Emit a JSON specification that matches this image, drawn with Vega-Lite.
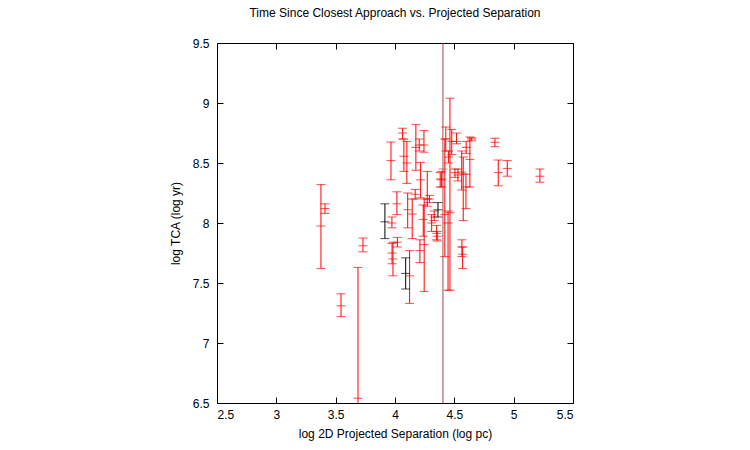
{
  "$schema": "https://vega.github.io/schema/vega-lite/v6.json",
  "autosize": {"type": "none"},
  "width": 356,
  "height": 360,
  "padding": {"left": 217, "top": 43, "right": 177, "bottom": 47},
  "background": "white",
  "config": {
    "view": {"stroke": null},
    "font": "Liberation Sans",
    "axis": {"grid": false, "domain": true, "domainColor": "black", "domainWidth": 1, "tickColor": "black", "labelColor": "black", "titleColor": "black", "labelFont": "Liberation Sans", "titleFont": "Liberation Sans", "labelFontSize": 12, "titleFontSize": 12, "titleFontWeight": "normal"}
  },
  "title": {"text": "Time Since Closest Approach vs. Projected Separation", "font": "Liberation Sans", "fontSize": 12, "fontWeight": "normal", "color": "black", "offset": 17, "anchor": "middle"},
  "data": {"values": [
    {"x": 3.376, "y": 7.975, "lo": 7.62, "hi": 8.32, "s": "a"},
    {"x": 3.41, "y": 8.12, "lo": 8.08, "hi": 8.16, "s": "a"},
    {"x": 3.545, "y": 7.31, "lo": 7.22, "hi": 7.41, "s": "a"},
    {"x": 3.688, "y": 6.54, "lo": 6.4, "hi": 7.63, "s": "a"},
    {"x": 3.73, "y": 7.81, "lo": 7.76, "hi": 7.875, "s": "a"},
    {"x": 3.915, "y": 8.01, "lo": 7.87, "hi": 8.16, "s": "b"},
    {"x": 3.974, "y": 8.0, "lo": 7.96, "hi": 8.05, "s": "a"},
    {"x": 3.983, "y": 7.7, "lo": 7.56, "hi": 7.84, "s": "a"},
    {"x": 3.966, "y": 8.52, "lo": 8.36, "hi": 8.675, "s": "a"},
    {"x": 4.016, "y": 8.16, "lo": 8.07, "hi": 8.26, "s": "a"},
    {"x": 3.975, "y": 7.75, "lo": 7.66, "hi": 7.83, "s": "a"},
    {"x": 4.02, "y": 7.84, "lo": 7.8, "hi": 7.88, "s": "a"},
    {"x": 4.064, "y": 8.75, "lo": 8.7, "hi": 8.79, "s": "a"},
    {"x": 4.075, "y": 8.556, "lo": 8.43, "hi": 8.7, "s": "a"},
    {"x": 4.1, "y": 8.5, "lo": 8.33, "hi": 8.68, "s": "a"},
    {"x": 4.09, "y": 7.58, "lo": 7.45, "hi": 7.71, "s": "b"},
    {"x": 4.123, "y": 7.56, "lo": 7.33, "hi": 7.77, "s": "a"},
    {"x": 4.107, "y": 8.11, "lo": 7.96, "hi": 8.25, "s": "a"},
    {"x": 4.145, "y": 8.075, "lo": 7.87, "hi": 8.2, "s": "a"},
    {"x": 4.17, "y": 8.24, "lo": 8.2, "hi": 8.28, "s": "a"},
    {"x": 4.176, "y": 8.63, "lo": 8.44, "hi": 8.82, "s": "a"},
    {"x": 4.204, "y": 8.65, "lo": 8.6, "hi": 8.7, "s": "a"},
    {"x": 4.216, "y": 8.36, "lo": 8.21, "hi": 8.505, "s": "a"},
    {"x": 4.244, "y": 8.65, "lo": 8.59, "hi": 8.77, "s": "a"},
    {"x": 4.272, "y": 8.2, "lo": 8.14, "hi": 8.43, "s": "a"},
    {"x": 4.29, "y": 8.2, "lo": 8.17, "hi": 8.23, "s": "a"},
    {"x": 4.21, "y": 7.77, "lo": 7.67, "hi": 7.86, "s": "a"},
    {"x": 4.246, "y": 7.82, "lo": 7.43, "hi": 8.2, "s": "a"},
    {"x": 4.238, "y": 8.03, "lo": 7.89, "hi": 8.15, "s": "a"},
    {"x": 4.309, "y": 8.0, "lo": 7.93, "hi": 8.07, "s": "a"},
    {"x": 4.33, "y": 8.05, "lo": 8.02, "hi": 8.1, "s": "a"},
    {"x": 4.351, "y": 7.914, "lo": 7.86, "hi": 7.98, "s": "a"},
    {"x": 4.356, "y": 7.89, "lo": 7.85, "hi": 7.93, "s": "a"},
    {"x": 4.362, "y": 8.11, "lo": 8.05, "hi": 8.17, "s": "b"},
    {"x": 4.381, "y": 8.367, "lo": 8.3, "hi": 8.42, "s": "a"},
    {"x": 4.393, "y": 8.36, "lo": 8.3, "hi": 8.43, "s": "a"},
    {"x": 4.404, "y": 8.45, "lo": 6.0, "hi": 10.0, "s": "c"},
    {"x": 4.42, "y": 8.07, "lo": 7.72, "hi": 8.7, "s": "a"},
    {"x": 4.428, "y": 8.7, "lo": 8.6, "hi": 8.8, "s": "a"},
    {"x": 4.447, "y": 8.0, "lo": 7.44, "hi": 8.1, "s": "a"},
    {"x": 4.45, "y": 8.55, "lo": 8.5, "hi": 8.6, "s": "a"},
    {"x": 4.463, "y": 8.086, "lo": 7.44, "hi": 9.04, "s": "a"},
    {"x": 4.478, "y": 8.68, "lo": 8.57, "hi": 8.78, "s": "a"},
    {"x": 4.505, "y": 8.42, "lo": 8.38, "hi": 8.45, "s": "a"},
    {"x": 4.519, "y": 8.68, "lo": 8.66, "hi": 8.75, "s": "a"},
    {"x": 4.53, "y": 8.4, "lo": 8.35, "hi": 8.45, "s": "a"},
    {"x": 4.562, "y": 8.425, "lo": 8.275, "hi": 8.6, "s": "a"},
    {"x": 4.564, "y": 7.8, "lo": 7.72, "hi": 7.86, "s": "a"},
    {"x": 4.57, "y": 7.74, "lo": 7.62, "hi": 7.8, "s": "a"},
    {"x": 4.575, "y": 8.41, "lo": 8.02, "hi": 8.55, "s": "a"},
    {"x": 4.598, "y": 8.3, "lo": 8.12, "hi": 8.406, "s": "a"},
    {"x": 4.6, "y": 8.63, "lo": 8.58, "hi": 8.68, "s": "a"},
    {"x": 4.631, "y": 8.53, "lo": 8.3, "hi": 8.717, "s": "a"},
    {"x": 4.646, "y": 8.7, "lo": 8.685, "hi": 8.71, "s": "a"},
    {"x": 4.842, "y": 8.673, "lo": 8.636, "hi": 8.706, "s": "a"},
    {"x": 4.87, "y": 8.42, "lo": 8.31, "hi": 8.525, "s": "a"},
    {"x": 4.946, "y": 8.455, "lo": 8.39, "hi": 8.52, "s": "a"},
    {"x": 5.221, "y": 8.39, "lo": 8.34, "hi": 8.45, "s": "a"}
  ]},
  "resolve": {"axis": {"x": "independent", "y": "independent"}},
  "layer": [
    {
      "mark": {"type": "rule", "strokeWidth": 1, "clip": true},
      "encoding": {
        "x": {"field": "x", "type": "quantitative", "scale": {"domain": [2.5, 5.5], "nice": false, "zero": false}, "axis": {"orient": "bottom", "values": [2.5, 3, 3.5, 4, 4.5, 5, 5.5], "format": "~g", "tickSize": -6, "labelPadding": 12, "title": "log 2D Projected Separation (log pc)", "titlePadding": 8}},
        "y": {"field": "lo", "type": "quantitative", "scale": {"domain": [6.5, 9.5], "nice": false, "zero": false}, "axis": {"orient": "left", "values": [6.5, 7, 7.5, 8, 8.5, 9, 9.5], "format": "~g", "tickSize": -6, "labelPadding": 14, "title": "log TCA (log yr)", "titlePadding": 10}},
        "y2": {"field": "hi"},
        "color": {"field": "s", "type": "nominal", "scale": {"domain": ["a", "b", "c"], "range": ["#ff0000", "#000000", "#a04848"]}, "legend": null}
      }
    },
    {
      "mark": {"type": "tick", "orient": "horizontal", "size": 9, "thickness": 1, "clip": true},
      "encoding": {
        "x": {"field": "x", "type": "quantitative", "axis": null},
        "y": {"field": "lo", "type": "quantitative", "axis": null},
        "color": {"field": "s", "type": "nominal", "legend": null}
      }
    },
    {
      "mark": {"type": "tick", "orient": "horizontal", "size": 9, "thickness": 1, "clip": true},
      "encoding": {
        "x": {"field": "x", "type": "quantitative", "axis": null},
        "y": {"field": "hi", "type": "quantitative", "axis": null},
        "color": {"field": "s", "type": "nominal", "legend": null}
      }
    },
    {
      "mark": {"type": "tick", "orient": "horizontal", "size": 9, "thickness": 1, "clip": true},
      "encoding": {
        "x": {"field": "x", "type": "quantitative", "axis": null},
        "y": {"field": "y", "type": "quantitative", "axis": null},
        "color": {"field": "s", "type": "nominal", "legend": null}
      }
    },
    {
      "mark": {"type": "tick", "opacity": 0},
      "encoding": {
        "x": {"field": "x", "type": "quantitative", "axis": {"orient": "top", "values": [2.5, 3, 3.5, 4, 4.5, 5, 5.5], "labels": false, "tickSize": -6, "title": null}},
        "y": {"field": "y", "type": "quantitative", "axis": {"orient": "right", "values": [6.5, 7, 7.5, 8, 8.5, 9, 9.5], "labels": false, "tickSize": -6, "title": null}}
      }
    }
  ]
}
